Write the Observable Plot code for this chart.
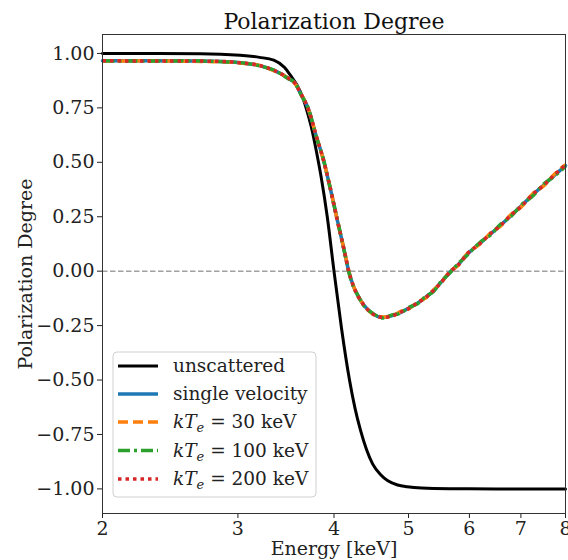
<!DOCTYPE html>
<html>
<head>
<meta charset="utf-8">
<script src="https://cdn.jsdelivr.net/npm/d3@7"></script>
<script src="https://cdn.jsdelivr.net/npm/@observablehq/plot@0.6"></script>
<style>
  html, body { margin: 0; padding: 0; background: #fff; }
</style>
</head>
<body>
<div id="chart"></div>
<script>
// ---- data ----
const energyUnscattered = [2.0, 2.68, 3.02, 3.20, 3.34, 3.45, 3.51, 3.58, 3.64, 3.70, 3.75, 3.79, 3.85, 3.92, 4.0, 4.09, 4.19, 4.26, 4.33, 4.41, 4.49, 4.60, 4.70, 4.84, 4.98, 5.2, 5.66, 6.5, 8.0];
const polUnscattered = [1.0, 0.999, 0.992, 0.982, 0.969, 0.935, 0.90, 0.855, 0.80, 0.72, 0.64, 0.56, 0.43, 0.25, 0.0, -0.26, -0.50, -0.63, -0.73, -0.82, -0.885, -0.935, -0.963, -0.982, -0.99, -0.996, -0.999, -1.0, -1.0];

const energyScattered = [2.0, 2.3, 2.6, 2.9, 3.02, 3.2, 3.34, 3.48, 3.56, 3.62, 3.70, 3.80, 3.87, 3.95, 4.04, 4.13, 4.18, 4.24, 4.30, 4.36, 4.49, 4.63, 4.75, 4.88, 5.0, 5.13, 5.26, 5.39, 5.50, 5.66, 5.8, 5.97, 6.2, 6.4, 6.58, 6.8, 7.0, 7.26, 7.5, 7.75, 8.0];
const polSingle = [0.966, 0.966, 0.965, 0.962, 0.957, 0.944, 0.923, 0.888, 0.863, 0.815, 0.75, 0.61, 0.52, 0.39, 0.235, 0.085, 0.0, -0.07, -0.115, -0.15, -0.195, -0.213, -0.205, -0.19, -0.17, -0.148, -0.12, -0.09, -0.055, -0.005, 0.03, 0.08, 0.13, 0.172, 0.21, 0.256, 0.298, 0.352, 0.397, 0.442, 0.485];
const polKT30 = [0.965, 0.966, 0.964, 0.961, 0.956, 0.945, 0.921, 0.889, 0.861, 0.818, 0.748, 0.612, 0.518, 0.392, 0.233, 0.087, 0.002, -0.068, -0.117, -0.148, -0.197, -0.21, -0.208, -0.186, -0.174, -0.144, -0.124, -0.086, -0.058, -0.001, 0.026, 0.084, 0.126, 0.177, 0.206, 0.261, 0.294, 0.357, 0.393, 0.447, 0.49];
const polKT100 = [0.966, 0.965, 0.966, 0.961, 0.958, 0.943, 0.924, 0.886, 0.864, 0.813, 0.752, 0.608, 0.522, 0.388, 0.237, 0.083, -0.002, -0.072, -0.113, -0.152, -0.193, -0.215, -0.202, -0.193, -0.167, -0.151, -0.117, -0.093, -0.052, -0.008, 0.034, 0.076, 0.134, 0.168, 0.214, 0.252, 0.302, 0.347, 0.401, 0.438, 0.482];
const polKT200 = [0.967, 0.965, 0.965, 0.963, 0.957, 0.945, 0.922, 0.889, 0.862, 0.816, 0.749, 0.611, 0.519, 0.391, 0.234, 0.086, 0.001, -0.069, -0.116, -0.149, -0.196, -0.212, -0.207, -0.188, -0.172, -0.146, -0.122, -0.088, -0.056, -0.003, 0.028, 0.082, 0.128, 0.175, 0.208, 0.259, 0.296, 0.355, 0.395, 0.445, 0.488];

const seriesLabels = ["unscattered", "single velocity", "30", "100", "200"];
const xTicks = [2, 3, 4, 5, 6, 7, 8];
const yTicks = [1.0, 0.75, 0.5, 0.25, 0.0, -0.25, -0.5, -0.75, -1.0];

// ---- build tables ----
const unscattered = energyUnscattered.map((e, i) => ({E: e, P: polUnscattered[i]}));
const toRows = (vals) => energyScattered.map((e, i) => ({E: e, P: vals[i]}));
const single = toRows(polSingle);
const kt30 = toRows(polKT30);
const kt100 = toRows(polKT100);
const kt200 = toRows(polKT200);

const C = {black: "#000000", blue: "#1f77b4", orange: "#ff7f0e", green: "#2ca02c", red: "#d62728"};
const styles = [
  {stroke: C.black, strokeWidth: 3, dash: null},
  {stroke: C.blue, strokeWidth: 3.5, dash: null},
  {stroke: C.orange, strokeWidth: 3.5, dash: "10,5"},
  {stroke: C.green, strokeWidth: 3.5, dash: "12,4,3,4"},
  {stroke: C.red, strokeWidth: 3.5, dash: "3.5,4"}
];

const fmtY = d => d.toFixed(2).replace("-", "\u2212");

const chart = Plot.plot({
  width: 568,
  height: 560,
  marginTop: 34,
  marginBottom: 47,
  marginLeft: 102,
  marginRight: 3,
  style: {fontFamily: "DejaVu Serif", fontSize: "19px", color: "#222", background: "#fff"},
  x: {type: "log", domain: [2, 8], ticks: xTicks, tickFormat: d => String(d), tickSize: 5, tickPadding: 3, label: null},
  y: {domain: [-1.113, 1.087], ticks: yTicks, tickFormat: fmtY, tickSize: 5, tickPadding: 3, label: null},
  marks: [
    Plot.ruleY([0], {stroke: "#a0a0a0", strokeWidth: 1.5, strokeDasharray: "5.5,2.5"}),
    Plot.line(unscattered, {x: "E", y: "P", stroke: C.black, strokeWidth: 3, curve: "monotone-x"}),
    Plot.line(single, {x: "E", y: "P", stroke: C.blue, strokeWidth: 3.5, curve: "monotone-x"}),
    Plot.line(kt30, {x: "E", y: "P", stroke: C.orange, strokeWidth: 3.5, strokeDasharray: "10,5", strokeLinecap: "butt", curve: "monotone-x"}),
    Plot.line(kt100, {x: "E", y: "P", stroke: C.green, strokeWidth: 3.5, strokeDasharray: "12,4,3,4", strokeLinecap: "butt", curve: "monotone-x"}),
    Plot.line(kt200, {x: "E", y: "P", stroke: C.red, strokeWidth: 3.5, strokeDasharray: "3.5,4", strokeLinecap: "butt", curve: "monotone-x"}),
    Plot.frame({stroke: "#333", strokeWidth: 1}),
    Plot.text(["Polarization Degree"], {frameAnchor: "top", lineAnchor: "bottom", dy: -6, fontSize: 22, fill: "#111"}),
    Plot.text(["Energy [keV]"], {frameAnchor: "bottom", lineAnchor: "bottom", dy: 41, fontSize: 19, fill: "#222"}),
    Plot.text(["Polarization Degree"], {frameAnchor: "left", textAnchor: "middle", rotate: -90, dx: -77, fontSize: 19, fill: "#222"})
  ]
});

document.getElementById("chart").appendChild(chart);

// ---- legend ----
const svg = d3.select(chart);
const lg = svg.append("g").attr("font-family", "DejaVu Serif").attr("font-size", 18.5).attr("fill", "#222").attr("text-anchor", "start");
lg.append("rect").attr("x", 113).attr("y", 352).attr("width", 203).attr("height", 145)
  .attr("rx", 4).attr("fill", "#fff").attr("fill-opacity", 0.85).attr("stroke", "#d0d0d0").attr("stroke-width", 1);
const rowY = [366, 394, 422, 450.5, 479];
seriesLabels.forEach((lab, i) => {
  const s = styles[i];
  const y = rowY[i];
  const ln = lg.append("line").attr("x1", 118).attr("x2", 158).attr("y1", y).attr("y2", y)
    .attr("stroke", s.stroke).attr("stroke-width", s.strokeWidth);
  if (s.dash) ln.attr("stroke-dasharray", s.dash);
  const t = lg.append("text").attr("x", 173).attr("y", y).attr("dy", "0.35em").attr("text-anchor", "start");
  if (i < 2) {
    t.text(lab);
  } else {
    t.append("tspan").attr("font-style", "italic").text("kT");
    t.append("tspan").attr("font-style", "italic").attr("font-size", 13).attr("dy", 4).text("e");
    t.append("tspan").attr("dy", -4).text(" = " + lab + " keV");
  }
});
</script>
</body>
</html>
